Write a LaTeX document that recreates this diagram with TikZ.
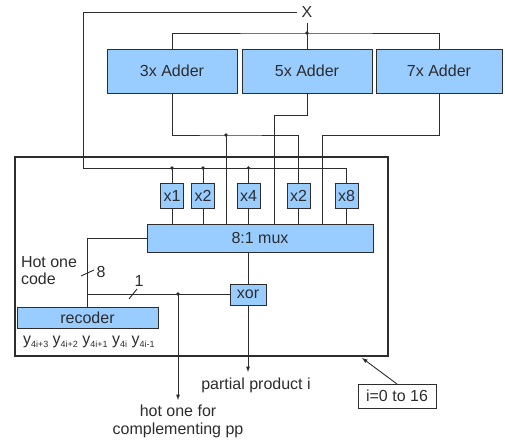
\documentclass[tikz,border=0pt]{standalone}
\usepackage{fontspec}
\setmainfont{Liberation Sans}
\usetikzlibrary{arrows,positioning}
\definecolor{blockblue}{RGB}{153,204,255}
\definecolor{wire}{RGB}{45,45,45}
\newcommand{\ysub}[1]{y\raisebox{-3pt}{\fontsize{9}{10}\selectfont#1}}

\begin{document}
\begin{tikzpicture}[x=1pt, y=-1pt, >=latex, line width=0.9pt, draw=wire,
		every node/.style={font=\fontsize{16}{17.5}\selectfont, text=wire, inner sep=1pt, outer sep=0pt},
		block/.style={draw=wire, rectangle, fill=blockblue},
		adder/.style={block, minimum width=130pt, minimum height=44pt},
		shifter/.style={block, minimum width=23pt, minimum height=25pt}]
	\useasboundingbox (0,0) rectangle (505,441);
	% one stage of the multiplier
	\node[draw=wire, line width=1.6pt, minimum width=373pt, minimum height=199pt, anchor=north west] (stage) at (15,157) {};
	\node[inner sep=5pt] (xin) at (307,12) {X};
	\node[adder] (add3) at (172,71) {3x Adder};
	\node[adder] (add5) [right=5pt of add3] {5x Adder};
	\node[adder, minimum width=126pt] (add7) [right=4pt of add5] {7x Adder};
	\node[shifter] (m1) at (172,195.5) {x1};
	\node[shifter] (m2) at (203,195.5) {x2};
	\node[shifter] (m4) at (248.5,195.5) {x4};
	\node[shifter] (m2b) at (298.5,195.5) {x2};
	\node[shifter] (m8) at (346.5,195.5) {x8};
	\node[block, minimum width=226pt, minimum height=28pt] (mux) at (260,238) {8:1 mux};
	\node[block, minimum width=36pt, minimum height=21pt] (xorg) at (248,294.5) {xor};
	\node[block, minimum width=141pt, minimum height=21pt] (rec) at (87.5,317.5) {recoder};
	\node[align=left, anchor=west] (hotcode) at (20,270.5) {Hot one\\code};
	\node[anchor=west] (ybits) at (22,342) {\ysub{4i+3} \ysub{4i+2} \ysub{4i+1} \ysub{4i} \ysub{4i-1}};
	\node[draw=wire, minimum width=78pt, minimum height=24pt] (irange) at (397,396) {i=0 to 16};

	% X to the adders and the shifters
	\coordinate (xcorner) at (83,12);
	\coordinate (xbus) at (83,168);
	\coordinate (tbus) at (307,33);
	\draw (xin.west) -- (xcorner) -- (xbus) -| (m8.north);
	\draw (xin.south) -- (xin.south |- add5.north);
	\draw (add3.north) |- (tbus) -| (add7.north);
	\fill[wire] (tbus) circle (1.8pt);
	\foreach \m in {m1,m2,m4} {
		\draw (\m.north |- xbus) -- (\m.north);
		\fill[wire] (\m.north |- xbus) circle (1.8pt);
	}

	% adder outputs
	\coordinate (b3) at (226,135);
	\coordinate (b5) at (274,115);
	\coordinate (b7) at (322,135);
	\draw (add3.south) |- (b3) -| (m2b.north);
	\draw (b3) -- (b3 |- mux.north);
	\fill[wire] (b3) circle (1.8pt);
	\draw (add5.south) |- (b5) -- (b5 |- mux.north);
	\draw (add7.south) |- (b7) -- (b7 |- mux.north);
	\foreach \m in {m1,m2,m4,m2b,m8}
		\draw (\m.south) -- (\m.south |- mux.north);

	% select and sign
	\draw (mux.west) -| (rec.north);
	\draw (81,276) -- (94,270);
	\node (w8) at (101,272) {8};
	\coordinate (sel) at (rec.north |- xorg.west);
	\draw (sel) -- (xorg.west);
	\draw (129,299) -- (137,289);
	\node (w1) at (139,281) {1};
	\coordinate (hsplit) at (178,294);
	\coordinate (hotout) at (178,400);
	\draw[->] (hsplit) -- (hotout);
	\fill[wire] (hsplit) circle (1.8pt);
	\node[align=center, anchor=north] (hotlbl) at (178,404) {hot one for\\complementing pp};

	% partial product
	\draw (xorg.north |- mux.south) -- (xorg.north);
	\coordinate (pp) at (248,372);
	\draw[->] (xorg.south) -- (pp);
	\node (pplbl) at (256,385) {partial product i};

	\coordinate (iref) at (362,358);
	\draw[->] (irange.north) -- (iref);
\end{tikzpicture}
\end{document}
